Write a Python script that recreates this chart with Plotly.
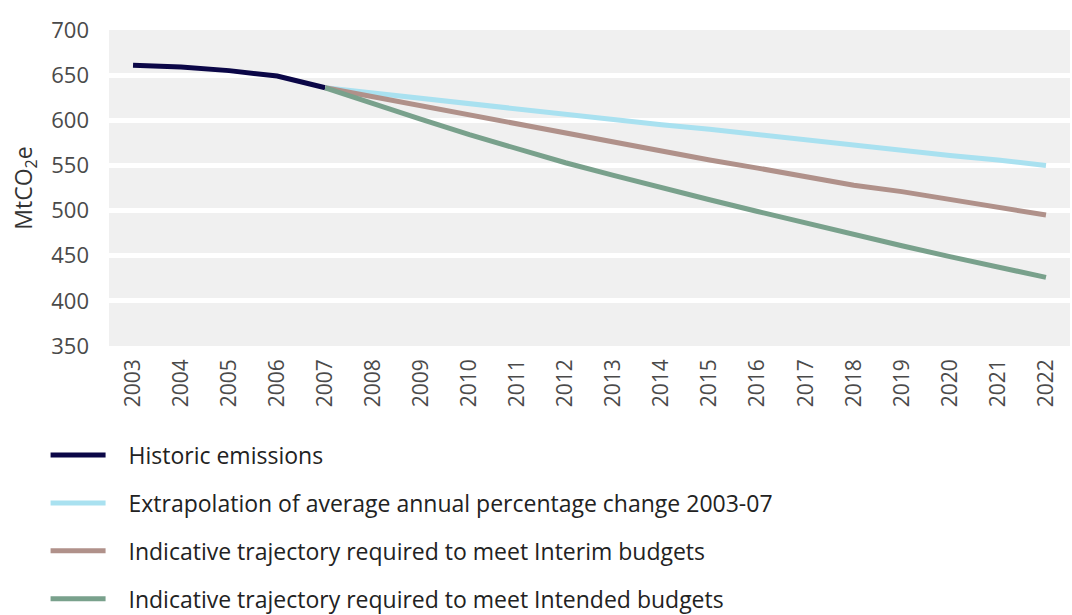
import plotly.graph_objects as go

years = [str(y) for y in range(2003, 2023)]

hist_years = years[:5]
historic = [661, 659, 655, 649, 636]

proj_years = years[4:]
extrapolation = [636, 630, 624, 618, 612, 607, 601, 595, 590, 584, 579, 573, 567, 561, 556, 550]
interim = [636, 626, 615, 605, 595, 585, 575, 565, 556, 547, 538, 528, 521, 512, 503, 495]
intended = [636, 618, 601, 584, 568, 553, 539, 525, 512, 499, 486, 473, 461, 449, 437, 426]

names = [
    "Historic emissions",
    "Extrapolation of average annual percentage change 2003-07",
    "Indicative trajectory required to meet Interim budgets",
    "Indicative trajectory required to meet Intended budgets",
]
colors = ["#0b0747", "#a9e1f0", "#b0918a", "#79a18c"]
series = [(hist_years, historic), (proj_years, extrapolation),
          (proj_years, interim), (proj_years, intended)]

gap = "&nbsp;" * 3

fig = go.Figure()
for i, (xs, ys) in enumerate(series):
    fig.add_trace(go.Scatter(x=xs, y=ys, mode="lines", name=gap + names[i],
                             line=dict(color=colors[i], width=5),
                             legendgroup=f"g{i}", legendrank=i + 1))

fig.update_layout(
    width=1072, height=615,
    margin=dict(l=109, r=2, t=30, b=269, autoexpand=False),
    plot_bgcolor="#f0f0f0",
    paper_bgcolor="white",
    font=dict(family="Open Sans", size=20, color="#333333"),
    xaxis=dict(type="category", categoryorder="array", categoryarray=years,
               range=[-0.5, 19.5], tickangle=-90, showgrid=False, automargin=False,
               ticklabelstandoff=8, tickfont=dict(size=21, color="#4a4a4a")),
    yaxis=dict(range=[350, 700], dtick=50, showgrid=True, gridcolor="white",
               gridwidth=5, zeroline=False, ticklabelstandoff=19, automargin=False,
               tickfont=dict(size=22, color="#4a4a4a"),
               title=dict(text="MtCO<sub>2</sub>e", standoff=12,
                          font=dict(size=23, color="#333333"))),
    legend=dict(x=-0.066, y=-0.277, xanchor="left", yanchor="top",
                orientation="v", font=dict(size=23, color="#222222"),
                tracegroupgap=15, itemwidth=55, traceorder="grouped"),
    showlegend=True,
)

fig.write_html("out.html", config={"displayModeBar": False},
               post_script="document.body.style.margin='0';")
